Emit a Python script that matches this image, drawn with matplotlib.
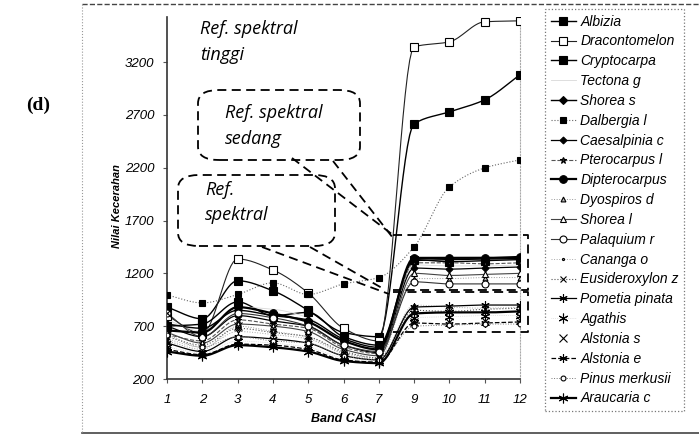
import numpy as np
import matplotlib
matplotlib.use("Agg")
from matplotlib import pyplot as plt
from matplotlib.patches import FancyBboxPatch
from matplotlib.lines import Line2D

W, H = 699, 445

bands = ['1', '2', '3', '4', '5', '6', '7', '9', '10', '11', '12']

albizia = [880, 770, 1130, 1035, 850, 640, 600, 2615, 2728, 2842, 3079]
dracontomelon = [800, 630, 1336, 1232, 1015, 680, 560, 3344, 3391, 3581, 3590]
cryptocarpa = [700, 720, 930, 800, 830, 600, 520, 1330, 1310, 1320, 1330]
tectona = [760, 650, 880, 860, 780, 560, 470, 1280, 1270, 1270, 1280]
shorea_s = [720, 680, 850, 800, 760, 580, 500, 1320, 1330, 1335, 1340]
dalbergia = [995, 920, 1000, 1110, 1000, 1100, 1160, 1450, 2018, 2198, 2274]
caesalpinia = [700, 600, 800, 750, 700, 520, 450, 1250, 1240, 1250, 1260]
pterocarpus = [620, 560, 760, 720, 680, 500, 440, 1300, 1300, 1290, 1300]
dipterocarpus = [660, 640, 880, 820, 740, 560, 480, 1346, 1346, 1346, 1355]
dyospiros = [560, 480, 700, 650, 600, 450, 400, 1150, 1150, 1160, 1160]
shorea_l = [640, 540, 720, 700, 650, 480, 420, 1200, 1180, 1190, 1200]
palaquium = [820, 600, 820, 780, 700, 520, 460, 1120, 1100, 1100, 1100]
cananga = [580, 500, 650, 620, 580, 440, 390, 900, 880, 870, 880]
eusideroxylon = [600, 520, 680, 640, 600, 460, 400, 850, 840, 860, 870]
pometia = [540, 460, 600, 580, 540, 420, 380, 880, 890, 900, 900]
agathis = [500, 450, 560, 540, 500, 400, 370, 780, 790, 800, 800]
alstonia_s = [820, 640, 700, 680, 620, 470, 410, 740, 740, 750, 760]
alstonia_e = [480, 430, 530, 520, 480, 380, 360, 730, 720, 730, 740]
pinus = [620, 500, 600, 560, 540, 420, 380, 700, 710, 720, 720]
araucaria = [460, 420, 520, 500, 460, 370, 350, 820, 830, 830, 840]

asterisk = (6, 2, 0)

# name, values, linestyle, linewidth, color, marker, markersize, facecolor
series = [
    ("Albizia", albizia, '-', 1.0, 'black', 's', 6, 'black'),
    ("Dracontomelon", dracontomelon, '-', 0.8, '#222222', 's', 6, 'white'),
    ("Cryptocarpa", cryptocarpa, '-', 1.0, 'black', 's', 6, 'black'),
    ("Tectona g", tectona, '-', 0.6, '#d8d8d8', 'None', 0, 'none'),
    ("Shorea s", shorea_s, '-', 1.0, 'black', 'D', 4, 'black'),
    ("Dalbergia l", dalbergia, ':', 0.8, '#666666', 's', 4.5, 'black'),
    ("Caesalpinia c", caesalpinia, '-', 0.9, 'black', 'D', 3.5, 'black'),
    ("Pterocarpus l", pterocarpus, '--', 0.8, '#555555', '*', 5, '#333333'),
    ("Dipterocarpus", dipterocarpus, '-', 1.6, 'black', 'o', 5.5, 'black'),
    ("Dyospiros d", dyospiros, ':', 0.7, '#999999', '^', 3.5, '#bbbbbb'),
    ("Shorea l", shorea_l, '-', 0.8, '#444444', '^', 4.5, 'white'),
    ("Palaquium r", palaquium, '-', 0.8, '#333333', 'o', 5, 'white'),
    ("Cananga o", cananga, ':', 0.7, '#aaaaaa', '.', 3, '#aaaaaa'),
    ("Eusideroxylon z", eusideroxylon, ':', 0.8, '#555555', 'x', 4.5, 'black'),
    ("Pometia pinata", pometia, '-', 0.9, 'black', asterisk, 6, 'black'),
    ("Agathis", agathis, ':', 0.5, '#cccccc', asterisk, 7, 'black'),
    ("Alstonia s", alstonia_s, 'None', 0.0, 'black', 'x', 6, 'black'),
    ("Alstonia e", alstonia_e, '--', 0.9, 'black', asterisk, 6, 'black'),
    ("Pinus merkusii", pinus, ':', 0.7, '#777777', 'o', 3.5, 'white'),
    ("Araucaria c", araucaria, '-', 1.6, 'black', asterisk, 7, 'black'),
]


def smooth(y, n=16):
    # monotone cubic through the points (no overshoot), unit spacing
    y = np.asarray(y, float)
    d = np.diff(y)
    m = np.zeros_like(y)
    m[0], m[-1] = d[0], d[-1]
    for i in range(1, len(y) - 1):
        if d[i - 1] * d[i] > 0:
            m[i] = 2 / (1 / d[i - 1] + 1 / d[i])
    xs, ys = [], []
    t = np.linspace(0, 1, n, endpoint=False)
    for i in range(len(y) - 1):
        h00 = 2 * t ** 3 - 3 * t ** 2 + 1
        h10 = t ** 3 - 2 * t ** 2 + t
        h01 = -2 * t ** 3 + 3 * t ** 2
        h11 = t ** 3 - t ** 2
        xs.extend(i + t)
        ys.extend(h00 * y[i] + h10 * m[i] + h01 * y[i + 1] + h11 * m[i + 1])
    xs.append(len(y) - 1)
    ys.append(y[-1])
    return np.array(xs), np.array(ys)


def fx(p):
    return p / W


def fy(p):
    return 1 - p / H


fig = plt.figure(figsize=(W / 100, H / 100), dpi=100)
ax = fig.add_axes([fx(167), fy(379), (520 - 167) / W, (379 - 17) / H])

xi = np.arange(len(bands))
handles = []
for name, vals, ls, lw, col, mk, ms, fc in series:
    if ls != 'None':
        sx, sy = smooth(vals)
        ax.plot(sx, sy, linestyle=ls, linewidth=lw, color=col, zorder=2)
    ax.plot(xi, vals, linestyle='None', marker=mk, markersize=ms,
            markerfacecolor=fc, markeredgecolor='black', markeredgewidth=0.8,
            zorder=3)
    handles.append(Line2D([], [], linestyle=ls, linewidth=lw, color=col,
                          marker=mk, markersize=ms, markerfacecolor=fc,
                          markeredgecolor='black', markeredgewidth=0.8,
                          label=name))

ax.set_xlim(0, 10)
ax.set_ylim(200, 3626)
ax.set_xticks(xi)
ax.set_xticklabels(bands)
ax.set_yticks(np.arange(200, 3201, 500))
for lab in ax.get_xticklabels() + ax.get_yticklabels():
    lab.set_fontstyle('italic')
    lab.set_fontsize(9.5)
    lab.set_fontfamily('Liberation Sans')
ax.tick_params(axis='x', length=3, pad=8, color='#555555')
ax.tick_params(axis='y', length=3, pad=6, color='#555555')
ax.spines['top'].set_visible(False)
ax.spines['right'].set_linestyle(':')
ax.spines['right'].set_color('#aaaaaa')
ax.spines['right'].set_linewidth(0.8)
ax.spines['left'].set_color('#333333')
ax.spines['bottom'].set_color('#333333')
ax.spines['left'].set_linewidth(1.2)
ax.spines['bottom'].set_linewidth(1.2)

ax.set_xlabel('Band CASI', fontsize=9, fontweight='bold', fontstyle='italic',
              family='Liberation Sans', labelpad=5)
fig.text(fx(117), fy(206), 'Nilai Kecerahan', rotation=90, fontsize=8,
         fontweight='bold', fontstyle='italic', family='Liberation Sans',
         ha='center', va='center')

fig.text(fx(38), fy(105), '(d)', fontsize=14, fontweight='bold',
         family='Liberation Serif', ha='center', va='center')

leg = fig.legend(handles=handles, loc='upper left',
                 bbox_to_anchor=(fx(545), fy(9)), borderaxespad=0,
                 prop={'family': 'Liberation Sans', 'style': 'italic',
                       'size': 10}, handlelength=1.8, handletextpad=0.35,
                 labelspacing=0.42, fancybox=False, borderpad=0.4)
leg.get_frame().set_edgecolor('#555555')
leg.get_frame().set_linestyle(':')
leg.get_frame().set_linewidth(0.9)

# outer frame of the figure
fig.add_artist(Line2D([fx(82), 1], [fy(4), fy(4)], linestyle='--',
                      color='#444444', linewidth=1.0))
fig.add_artist(Line2D([fx(82), 1], [fy(433), fy(433)], linestyle='-',
                      color='#444444', linewidth=1.2))
fig.add_artist(Line2D([fx(82), fx(82)], [fy(4), fy(433)], linestyle=':',
                      color='#999999', linewidth=0.8))

# annotation callouts
note = dict(fontsize=13, fontstyle='italic', family='Open Sans',
            ha='left', va='center')
fig.text(fx(200), fy(29), 'Ref. spektral', **note)
fig.text(fx(200), fy(55), 'tinggi', **note)
fig.text(fx(225), fy(113), 'Ref. spektral', **note)
fig.text(fx(225), fy(139), 'sedang', **note)
fig.text(fx(205), fy(190), 'Ref.', **note)
fig.text(fx(205), fy(215), 'spektral', **note)


def rbox(x0, y0, x1, y1):
    b = FancyBboxPatch((fx(x0), fy(y1)), fx(x1) - fx(x0), fy(y0) - fy(y1),
                       boxstyle='round,pad=0,rounding_size=0.03',
                       transform=fig.transFigure, fill=False,
                       linestyle=(0, (5, 3)), linewidth=1.3, edgecolor='black')
    fig.add_artist(b)


def dline(xs, ys, lw=1.3):
    fig.add_artist(Line2D([fx(v) for v in xs], [fy(v) for v in ys],
                          linestyle=(0, (5, 3)), color='black', linewidth=lw))


rbox(198, 90, 360, 160)
rbox(178, 175, 335, 246)
dline([292, 393], [158, 235])
dline([333, 393], [161, 238])
dline([262, 389], [247, 294])
dline([310, 382], [247, 288])

# boxes around the reference groups
dline([393, 528, 528, 393], [235, 235, 290, 290])
dline([393, 528, 528, 393], [292, 292, 332, 332])

fig.savefig('out.png', dpi=100)
